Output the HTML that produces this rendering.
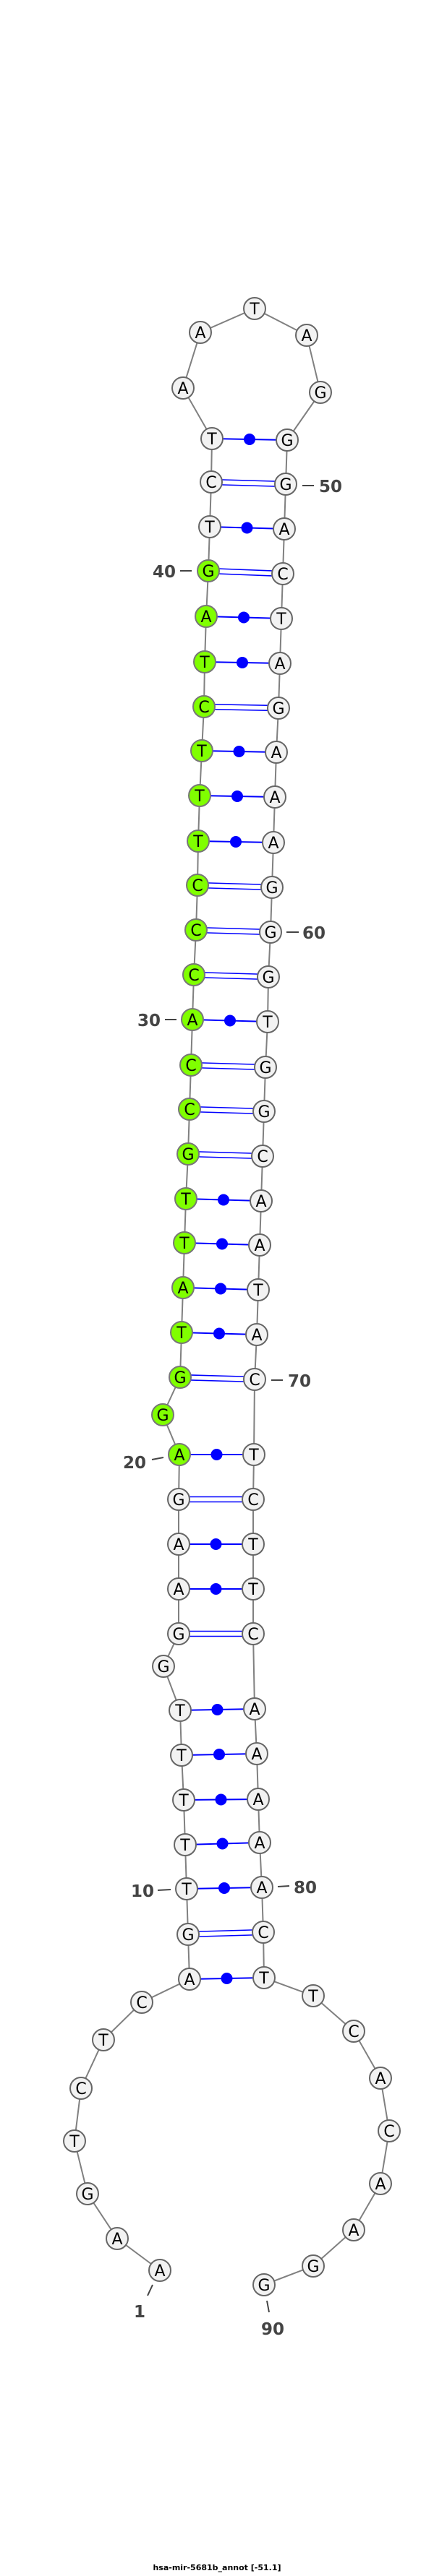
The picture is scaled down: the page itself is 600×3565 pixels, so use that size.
<!DOCTYPE html>
<html><head><meta charset="utf-8"><style>
html,body{margin:0;padding:0;background:#fff;}
svg{display:block;}
.n{stroke:#666;stroke-width:2;fill:#f2f2f2;}
.g{stroke:#777;stroke-width:2;fill:#80ff00;}
.t{font-family:"DejaVu Sans","Liberation Sans",sans-serif;font-size:22px;text-anchor:middle;fill:#000;}
.l{font-family:"DejaVu Sans","Liberation Sans",sans-serif;font-size:23px;font-weight:bold;fill:#444;}
.bb{fill:none;stroke:#808080;stroke-width:2;}
.p{stroke:#0000ff;stroke-width:2;}
.p2{stroke:#0000ff;stroke-width:1.6;}
.lt{stroke:#444;stroke-width:2;}
</style></head><body>
<svg width="600" height="3565" viewBox="0 0 600 3565" xmlns="http://www.w3.org/2000/svg">
<polyline class="bb" points="221,3142 162,3098 121,3036 103,2963 112,2890 143,2823 196,2771 262,2739 260,2677 258,2614 256,2553 254,2491 251,2429 249,2367 226,2306 247,2261 247,2199 247,2137 247,2075 248,2013 225,1958 249,1906 251,1844 253,1782 255,1720 257,1659 260,1597 262,1535 264,1474 266,1411 268,1349 271,1287 273,1225 274,1164 276,1101 279,1039 282,978 283,916 285,853 288,790 290,729 292,667 293,607 253,537 277,460 352,427 424,464 443,543 397,609 395,670 393,732 391,794 389,856 387,918 385,980 382,1041 380,1103 378,1166 376,1228 374,1290 371,1352 370,1414 367,1477 365,1538 363,1600 361,1662 359,1723 357,1785 355,1847 352,1909 351,2013 350,2075 350,2137 350,2199 350,2261 352,2365 355,2427 357,2490 359,2550 362,2612 364,2674 365,2737 433,2762 489,2811 526,2876 538,2949 526,3022 489,3086 433,3136 365,3162"/>
<!-- pairs: dots -->
<g class="p">
<line x1="293" y1="607" x2="397" y2="609"/>
<line x1="290" y1="729" x2="393" y2="732"/>
<line x1="285" y1="853" x2="389" y2="856"/>
<line x1="283" y1="916" x2="387" y2="918"/>
<line x1="279" y1="1039" x2="382" y2="1041"/>
<line x1="276" y1="1101" x2="380" y2="1103"/>
<line x1="274" y1="1164" x2="378" y2="1166"/>
<line x1="266" y1="1411" x2="370" y2="1414"/>
<line x1="257" y1="1659" x2="361" y2="1662"/>
<line x1="255" y1="1720" x2="359" y2="1723"/>
<line x1="253" y1="1782" x2="357" y2="1785"/>
<line x1="251" y1="1844" x2="355" y2="1847"/>
<line x1="248" y1="2013" x2="351" y2="2013"/>
<line x1="247" y1="2137" x2="350" y2="2137"/>
<line x1="247" y1="2199" x2="350" y2="2199"/>
<line x1="249" y1="2367" x2="352" y2="2365"/>
<line x1="251" y1="2429" x2="355" y2="2427"/>
<line x1="254" y1="2491" x2="357" y2="2490"/>
<line x1="256" y1="2553" x2="359" y2="2550"/>
<line x1="258" y1="2614" x2="362" y2="2612"/>
<line x1="262" y1="2739" x2="365" y2="2737"/>
</g>
<g fill="#0000ff">
<circle cx="345" cy="608" r="8"/>
<circle cx="341.5" cy="730.5" r="8"/>
<circle cx="337" cy="854.5" r="8"/>
<circle cx="335" cy="917" r="8"/>
<circle cx="330.5" cy="1040" r="8"/>
<circle cx="328" cy="1102" r="8"/>
<circle cx="326" cy="1165" r="8"/>
<circle cx="318" cy="1412.5" r="8"/>
<circle cx="309" cy="1660.5" r="8"/>
<circle cx="307" cy="1721.5" r="8"/>
<circle cx="305" cy="1783.5" r="8"/>
<circle cx="303" cy="1845.5" r="8"/>
<circle cx="299.5" cy="2013" r="8"/>
<circle cx="298.5" cy="2137" r="8"/>
<circle cx="298.5" cy="2199" r="8"/>
<circle cx="300.5" cy="2366" r="8"/>
<circle cx="303" cy="2428" r="8"/>
<circle cx="305.5" cy="2490.5" r="8"/>
<circle cx="307.5" cy="2551.5" r="8"/>
<circle cx="310" cy="2613" r="8"/>
<circle cx="313.5" cy="2738" r="8"/>
</g>
<!-- pairs: double -->
<g class="p2">
<line x1="292" y1="663.5" x2="395" y2="666.5"/><line x1="292" y1="670.5" x2="395" y2="673.5"/>
<line x1="288" y1="786.5" x2="391" y2="790.5"/><line x1="288" y1="793.5" x2="391" y2="797.5"/>
<line x1="282" y1="974.5" x2="385" y2="976.5"/><line x1="282" y1="981.5" x2="385" y2="983.5"/>
<line x1="273" y1="1221.5" x2="376" y2="1224.5"/><line x1="273" y1="1228.5" x2="376" y2="1231.5"/>
<line x1="271" y1="1283.5" x2="374" y2="1286.5"/><line x1="271" y1="1290.5" x2="374" y2="1293.5"/>
<line x1="268" y1="1345.5" x2="371" y2="1348.5"/><line x1="268" y1="1352.5" x2="371" y2="1355.5"/>
<line x1="264" y1="1470.5" x2="367" y2="1473.5"/><line x1="264" y1="1477.5" x2="367" y2="1480.5"/>
<line x1="262" y1="1531.5" x2="365" y2="1534.5"/><line x1="262" y1="1538.5" x2="365" y2="1541.5"/>
<line x1="260" y1="1593.5" x2="363" y2="1596.5"/><line x1="260" y1="1600.5" x2="363" y2="1603.5"/>
<line x1="249" y1="1902.5" x2="352" y2="1905.5"/><line x1="249" y1="1909.5" x2="352" y2="1912.5"/>
<line x1="247" y1="2071.5" x2="350" y2="2071.5"/><line x1="247" y1="2078.5" x2="350" y2="2078.5"/>
<line x1="247" y1="2257.5" x2="350" y2="2257.5"/><line x1="247" y1="2264.5" x2="350" y2="2264.5"/>
<line x1="260" y1="2673.5" x2="364" y2="2670.5"/><line x1="260" y1="2680.5" x2="364" y2="2677.5"/>
</g>
<!-- nodes -->
<g>
<circle class="n" cx="221" cy="3142" r="15"/><text class="t" x="221" y="3150">A</text>
<circle class="n" cx="162" cy="3098" r="15"/><text class="t" x="162" y="3106">A</text>
<circle class="n" cx="121" cy="3036" r="15"/><text class="t" x="121" y="3044">G</text>
<circle class="n" cx="103" cy="2963" r="15"/><text class="t" x="103" y="2971">T</text>
<circle class="n" cx="112" cy="2890" r="15"/><text class="t" x="112" y="2898">C</text>
<circle class="n" cx="143" cy="2823" r="15"/><text class="t" x="143" y="2831">T</text>
<circle class="n" cx="196" cy="2771" r="15"/><text class="t" x="196" y="2779">C</text>
<circle class="n" cx="262" cy="2739" r="15"/><text class="t" x="262" y="2747">A</text>
<circle class="n" cx="260" cy="2677" r="15"/><text class="t" x="260" y="2685">G</text>
<circle class="n" cx="258" cy="2614" r="15"/><text class="t" x="258" y="2622">T</text>
<circle class="n" cx="256" cy="2553" r="15"/><text class="t" x="256" y="2561">T</text>
<circle class="n" cx="254" cy="2491" r="15"/><text class="t" x="254" y="2499">T</text>
<circle class="n" cx="251" cy="2429" r="15"/><text class="t" x="251" y="2437">T</text>
<circle class="n" cx="249" cy="2367" r="15"/><text class="t" x="249" y="2375">T</text>
<circle class="n" cx="226" cy="2306" r="15"/><text class="t" x="226" y="2314">G</text>
<circle class="n" cx="247" cy="2261" r="15"/><text class="t" x="247" y="2269">G</text>
<circle class="n" cx="247" cy="2199" r="15"/><text class="t" x="247" y="2207">A</text>
<circle class="n" cx="247" cy="2137" r="15"/><text class="t" x="247" y="2145">A</text>
<circle class="n" cx="247" cy="2075" r="15"/><text class="t" x="247" y="2083">G</text>
<circle class="g" cx="248" cy="2013" r="15"/><text class="t" x="248" y="2021">A</text>
<circle class="g" cx="225" cy="1958" r="15"/><text class="t" x="225" y="1966">G</text>
<circle class="g" cx="249" cy="1906" r="15"/><text class="t" x="249" y="1914">G</text>
<circle class="g" cx="251" cy="1844" r="15"/><text class="t" x="251" y="1852">T</text>
<circle class="g" cx="253" cy="1782" r="15"/><text class="t" x="253" y="1790">A</text>
<circle class="g" cx="255" cy="1720" r="15"/><text class="t" x="255" y="1728">T</text>
<circle class="g" cx="257" cy="1659" r="15"/><text class="t" x="257" y="1667">T</text>
<circle class="g" cx="260" cy="1597" r="15"/><text class="t" x="260" y="1605">G</text>
<circle class="g" cx="262" cy="1535" r="15"/><text class="t" x="262" y="1543">C</text>
<circle class="g" cx="264" cy="1474" r="15"/><text class="t" x="264" y="1482">C</text>
<circle class="g" cx="266" cy="1411" r="15"/><text class="t" x="266" y="1419">A</text>
<circle class="g" cx="268" cy="1349" r="15"/><text class="t" x="268" y="1357">C</text>
<circle class="g" cx="271" cy="1287" r="15"/><text class="t" x="271" y="1295">C</text>
<circle class="g" cx="273" cy="1225" r="15"/><text class="t" x="273" y="1233">C</text>
<circle class="g" cx="274" cy="1164" r="15"/><text class="t" x="274" y="1172">T</text>
<circle class="g" cx="276" cy="1101" r="15"/><text class="t" x="276" y="1109">T</text>
<circle class="g" cx="279" cy="1039" r="15"/><text class="t" x="279" y="1047">T</text>
<circle class="g" cx="282" cy="978" r="15"/><text class="t" x="282" y="986">C</text>
<circle class="g" cx="283" cy="916" r="15"/><text class="t" x="283" y="924">T</text>
<circle class="g" cx="285" cy="853" r="15"/><text class="t" x="285" y="861">A</text>
<circle class="g" cx="288" cy="790" r="15"/><text class="t" x="288" y="798">G</text>
<circle class="n" cx="290" cy="729" r="15"/><text class="t" x="290" y="737">T</text>
<circle class="n" cx="292" cy="667" r="15"/><text class="t" x="292" y="675">C</text>
<circle class="n" cx="293" cy="607" r="15"/><text class="t" x="293" y="615">T</text>
<circle class="n" cx="253" cy="537" r="15"/><text class="t" x="253" y="545">A</text>
<circle class="n" cx="277" cy="460" r="15"/><text class="t" x="277" y="468">A</text>
<circle class="n" cx="352" cy="427" r="15"/><text class="t" x="352" y="435">T</text>
<circle class="n" cx="424" cy="464" r="15"/><text class="t" x="424" y="472">A</text>
<circle class="n" cx="443" cy="543" r="15"/><text class="t" x="443" y="551">G</text>
<circle class="n" cx="397" cy="609" r="15"/><text class="t" x="397" y="617">G</text>
<circle class="n" cx="395" cy="670" r="15"/><text class="t" x="395" y="678">G</text>
<circle class="n" cx="393" cy="732" r="15"/><text class="t" x="393" y="740">A</text>
<circle class="n" cx="391" cy="794" r="15"/><text class="t" x="391" y="802">C</text>
<circle class="n" cx="389" cy="856" r="15"/><text class="t" x="389" y="864">T</text>
<circle class="n" cx="387" cy="918" r="15"/><text class="t" x="387" y="926">A</text>
<circle class="n" cx="385" cy="980" r="15"/><text class="t" x="385" y="988">G</text>
<circle class="n" cx="382" cy="1041" r="15"/><text class="t" x="382" y="1049">A</text>
<circle class="n" cx="380" cy="1103" r="15"/><text class="t" x="380" y="1111">A</text>
<circle class="n" cx="378" cy="1166" r="15"/><text class="t" x="378" y="1174">A</text>
<circle class="n" cx="376" cy="1228" r="15"/><text class="t" x="376" y="1236">G</text>
<circle class="n" cx="374" cy="1290" r="15"/><text class="t" x="374" y="1298">G</text>
<circle class="n" cx="371" cy="1352" r="15"/><text class="t" x="371" y="1360">G</text>
<circle class="n" cx="370" cy="1414" r="15"/><text class="t" x="370" y="1422">T</text>
<circle class="n" cx="367" cy="1477" r="15"/><text class="t" x="367" y="1485">G</text>
<circle class="n" cx="365" cy="1538" r="15"/><text class="t" x="365" y="1546">G</text>
<circle class="n" cx="363" cy="1600" r="15"/><text class="t" x="363" y="1608">C</text>
<circle class="n" cx="361" cy="1662" r="15"/><text class="t" x="361" y="1670">A</text>
<circle class="n" cx="359" cy="1723" r="15"/><text class="t" x="359" y="1731">A</text>
<circle class="n" cx="357" cy="1785" r="15"/><text class="t" x="357" y="1793">T</text>
<circle class="n" cx="355" cy="1847" r="15"/><text class="t" x="355" y="1855">A</text>
<circle class="n" cx="352" cy="1909" r="15"/><text class="t" x="352" y="1917">C</text>
<circle class="n" cx="351" cy="2013" r="15"/><text class="t" x="351" y="2021">T</text>
<circle class="n" cx="350" cy="2075" r="15"/><text class="t" x="350" y="2083">C</text>
<circle class="n" cx="350" cy="2137" r="15"/><text class="t" x="350" y="2145">T</text>
<circle class="n" cx="350" cy="2199" r="15"/><text class="t" x="350" y="2207">T</text>
<circle class="n" cx="350" cy="2261" r="15"/><text class="t" x="350" y="2269">C</text>
<circle class="n" cx="352" cy="2365" r="15"/><text class="t" x="352" y="2373">A</text>
<circle class="n" cx="355" cy="2427" r="15"/><text class="t" x="355" y="2435">A</text>
<circle class="n" cx="357" cy="2490" r="15"/><text class="t" x="357" y="2498">A</text>
<circle class="n" cx="359" cy="2550" r="15"/><text class="t" x="359" y="2558">A</text>
<circle class="n" cx="362" cy="2612" r="15"/><text class="t" x="362" y="2620">A</text>
<circle class="n" cx="364" cy="2674" r="15"/><text class="t" x="364" y="2682">C</text>
<circle class="n" cx="365" cy="2737" r="15"/><text class="t" x="365" y="2745">T</text>
<circle class="n" cx="433" cy="2762" r="15"/><text class="t" x="433" y="2770">T</text>
<circle class="n" cx="489" cy="2811" r="15"/><text class="t" x="489" y="2819">C</text>
<circle class="n" cx="526" cy="2876" r="15"/><text class="t" x="526" y="2884">A</text>
<circle class="n" cx="538" cy="2949" r="15"/><text class="t" x="538" y="2957">C</text>
<circle class="n" cx="526" cy="3022" r="15"/><text class="t" x="526" y="3030">A</text>
<circle class="n" cx="489" cy="3086" r="15"/><text class="t" x="489" y="3094">A</text>
<circle class="n" cx="433" cy="3136" r="15"/><text class="t" x="433" y="3144">G</text>
<circle class="n" cx="365" cy="3162" r="15"/><text class="t" x="365" y="3170">G</text>
</g>
<!-- labels -->
<g>
<line class="lt" x1="249" y1="790" x2="265" y2="790"/><text class="l" x="211" y="799">40</text>
<line class="lt" x1="418" y1="672" x2="434" y2="672"/><text class="l" x="441" y="681">50</text>
<line class="lt" x1="228" y1="1411" x2="244" y2="1411"/><text class="l" x="190" y="1420">30</text>
<line class="lt" x1="396" y1="1290" x2="413" y2="1290"/><text class="l" x="418" y="1299">60</text>
<line class="lt" x1="210" y1="2020" x2="226" y2="2017"/><text class="l" x="170" y="2032">20</text>
<line class="lt" x1="375" y1="1910" x2="391" y2="1910"/><text class="l" x="398" y="1919">70</text>
<line class="lt" x1="218" y1="2616" x2="236" y2="2615"/><text class="l" x="181" y="2625">10</text>
<line class="lt" x1="384" y1="2611" x2="400" y2="2610"/><text class="l" x="406" y="2620">80</text>
<line class="lt" x1="211" y1="3162" x2="204" y2="3177"/><text class="l" x="193" y="3207" text-anchor="middle">1</text>
<line class="lt" x1="369" y1="3184" x2="372" y2="3200"/><text class="l" x="377" y="3231" text-anchor="middle">90</text>
</g>
<text x="300" y="3557" text-anchor="middle" font-family="DejaVu Sans, Liberation Sans, sans-serif" font-size="11" font-weight="bold" fill="#000">hsa-mir-5681b_annot [-51.1]</text>
</svg>
</body></html>
